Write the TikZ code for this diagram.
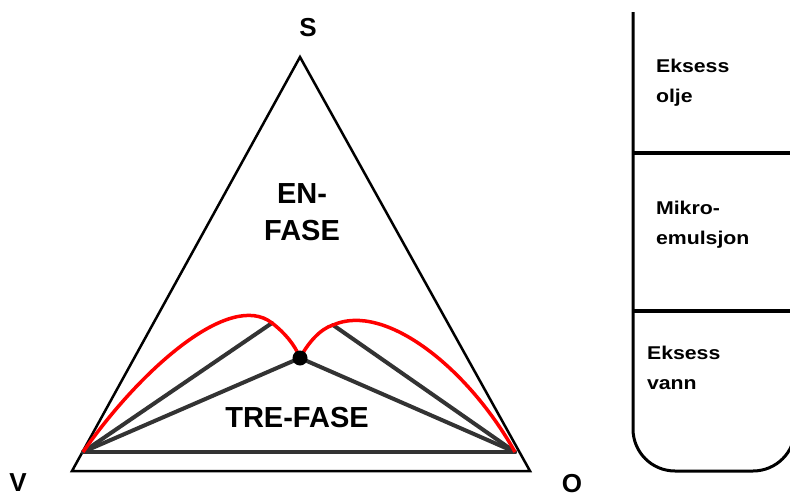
\documentclass[tikz,border=0pt]{standalone}
\usepackage{fontspec}
\setmainfont{Liberation Sans}
\usetikzlibrary{calc}
\definecolor{tiegray}{HTML}{333333}
\definecolor{binred}{HTML}{FF0000}

\begin{document}
\begin{tikzpicture}[x=1pt,y=-1pt,
  tie/.style={line width=4pt,draw=tiegray,line cap=round},
  corner/.style={font=\fontsize{26}{30}\selectfont\bfseries,inner sep=1pt},
  phase/.style={font=\fontsize{29}{37}\selectfont\bfseries,align=center},
  layer/.style={font=\fontsize{18.5}{30}\selectfont\bfseries,align=left,anchor=west,xscale=1.15}]
  \useasboundingbox (0,0) rectangle (790,498);
  % ternary diagram
  \coordinate (sTop) at (300,57);
  \coordinate (vCor) at (72,471);
  \coordinate (oCor) at (530,471);
  \coordinate (vEnd) at (83,452);
  \coordinate (oEnd) at (515,452);
  \coordinate (plait) at (300,358);
  \coordinate (tieL) at (272,323);
  \coordinate (tieR) at (333,325);
  \draw[line width=2.5pt,line join=miter] (vCor) -- (sTop) -- (oCor) -- cycle;
  \draw[tie] (vEnd) -- (oEnd);
  \draw[tie] (vEnd) -- (tieL);
  \draw[tie] (vEnd) -- (plait) -- (oEnd);
  \draw[tie] (oEnd) -- (tieR);
  \draw[binred,line width=3.5pt]
    (vEnd) .. controls (140,370) and (230,290) .. (tieL)
           .. controls (285,333) and (295,345) .. (plait);
  \draw[binred,line width=3.5pt]
    (plait) .. controls (308,343) and (320,329) .. (tieR)
            .. controls (385,302) and (468,368) .. (oEnd);
  \fill (plait) circle (7.5);
  \node[corner] (sLbl) at (308,28) {S};
  \node[corner] (vLbl) at (18,483) {V};
  \node[corner] (oLbl) at (572,484) {O};
  \node[phase] (enFase) at (302,212) {EN-\\FASE};
  \node[phase] (treFase) at (297,418) {TRE-FASE};
  % test tube
  \begin{scope}
    \clip (600,0) rectangle (790,498);
    \draw[line width=3pt,rounded corners=42pt] (633,12) -- (633,471) -- (795,471) -- (795,12);
  \end{scope}
  \draw[line width=4pt] (633,153) -- (790,153);
  \draw[line width=4pt] (633,311) -- (790,311);
  \node[layer] (olje) at (652,83) {Eksess\\olje};
  \node[layer] (mikro) at (652,225) {Mikro-\\emulsjon};
  \node[layer] (vann) at (643,368) {Eksess\\vann};
\end{tikzpicture}
\end{document}
